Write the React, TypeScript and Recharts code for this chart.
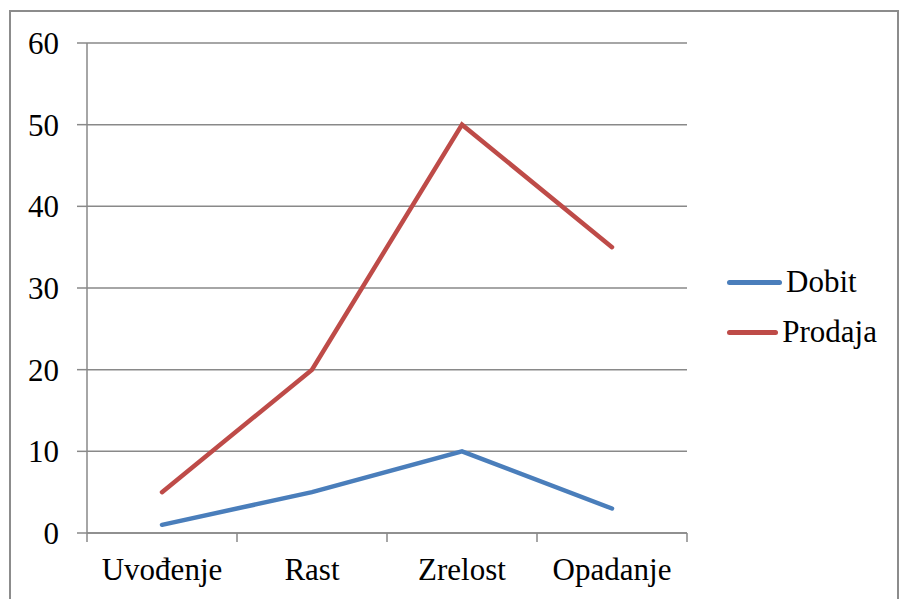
import React from 'react';
import { LineChart, Line, XAxis, YAxis, CartesianGrid, Legend } from 'recharts';

const stages = ['Uvođenje', 'Rast', 'Zrelost', 'Opadanje'];
const dobit = [1, 5, 10, 3];
const prodaja = [5, 20, 50, 35];
const yTicks = [0, 10, 20, 30, 40, 50, 60];

const data = stages.map((s, i) => ({ stage: s, Dobit: dobit[i], Prodaja: prodaja[i] }));

const W = 899;
const H = 599;
const FONT = "'Liberation Serif', Tinos, 'Times New Roman', 'DejaVu Serif', serif";
const GRID = '#898989';
const BLUE = '#4a7ebb';
const RED = '#be4b48';

const MARGIN = { top: 43, right: 62, left: 0, bottom: 6 };
const Y_W = 87;
const LEGEND_W = 150;
const PLOT_W = W - MARGIN.left - Y_W - MARGIN.right - LEGEND_W;
const BAND = PLOT_W / stages.length;
const X_TICK = 9;
const X_MARGIN = 16;

function CategoryTick(props: any) {
  const { x, y, payload, index } = props;
  const axisY = y - X_TICK - X_MARGIN;
  return (
    <g>
      <line x1={x - BAND / 2} x2={x - BAND / 2} y1={axisY} y2={axisY + X_TICK} stroke={GRID} strokeWidth={1.5} />
      {index === stages.length - 1 && (
        <line x1={x + BAND / 2} x2={x + BAND / 2} y1={axisY} y2={axisY + X_TICK} stroke={GRID} strokeWidth={1.5} />
      )}
      <text x={x} y={y} dy="0.71em" textAnchor="middle" fill="#000" style={{ fontSize: 31, fontFamily: FONT }}>
        {payload.value}
      </text>
    </g>
  );
}

function YTick(props: any) {
  const { x, y, payload } = props;
  return (
    <text x={x} y={y} dy="0.355em" textAnchor="end" fill="#000" style={{ fontSize: 31, fontFamily: FONT }}>
      {payload.value}
    </text>
  );
}

function LegendBox() {
  const items = [
    { name: 'Dobit', color: BLUE },
    { name: 'Prodaja', color: RED },
  ];
  return (
    <div>
      {items.map((it) => (
        <div key={it.name} style={{ display: 'flex', alignItems: 'center', height: 50 }}>
          <div style={{ width: 55, height: 5, borderRadius: 3, background: it.color, marginRight: 4 }} />
          <span style={{ fontFamily: FONT, fontSize: 31, color: '#000', lineHeight: '50px' }}>{it.name}</span>
        </div>
      ))}
    </div>
  );
}

export default function App() {
  return (
    <div style={{ position: 'absolute', left: 0, top: 0, width: W, height: H, overflow: 'hidden', background: '#fff' }}>
      <div
        style={{
          position: 'absolute',
          left: 9,
          top: 10,
          width: 886,
          height: 640,
          border: '2px solid #8c8c8c',
        }}
      />
      <div style={{ position: 'absolute', left: 0, top: 0 }}>
        <LineChart width={W} height={H} data={data} margin={MARGIN}>
          <CartesianGrid vertical={false} stroke={GRID} strokeWidth={1.5} />
          <XAxis
            dataKey="stage"
            height={60}
            padding={{ left: BAND / 2, right: BAND / 2 }}
            tickLine={false}
            tickSize={X_TICK}
            tickMargin={X_MARGIN}
            axisLine={{ stroke: GRID, strokeWidth: 1.5 }}
            tick={<CategoryTick />}
            interval={0}
          />
          <YAxis
            width={Y_W}
            domain={[0, 60]}
            ticks={yTicks}
            tickSize={10}
            tickMargin={18}
            tickLine={{ stroke: GRID, strokeWidth: 1.5 }}
            axisLine={{ stroke: GRID, strokeWidth: 1.5 }}
            tick={<YTick />}
          />
          <Legend
            layout="vertical"
            align="right"
            verticalAlign="middle"
            width={LEGEND_W}
            content={<LegendBox />}
            wrapperStyle={{ left: 727, top: 257, width: LEGEND_W }}
          />
          <Line type="linear" dataKey="Dobit" stroke={BLUE} strokeWidth={4.5} strokeLinecap="round" dot={false} isAnimationActive={false} />
          <Line type="linear" dataKey="Prodaja" stroke={RED} strokeWidth={4.5} strokeLinecap="round" dot={false} isAnimationActive={false} />
        </LineChart>
      </div>
    </div>
  );
}
